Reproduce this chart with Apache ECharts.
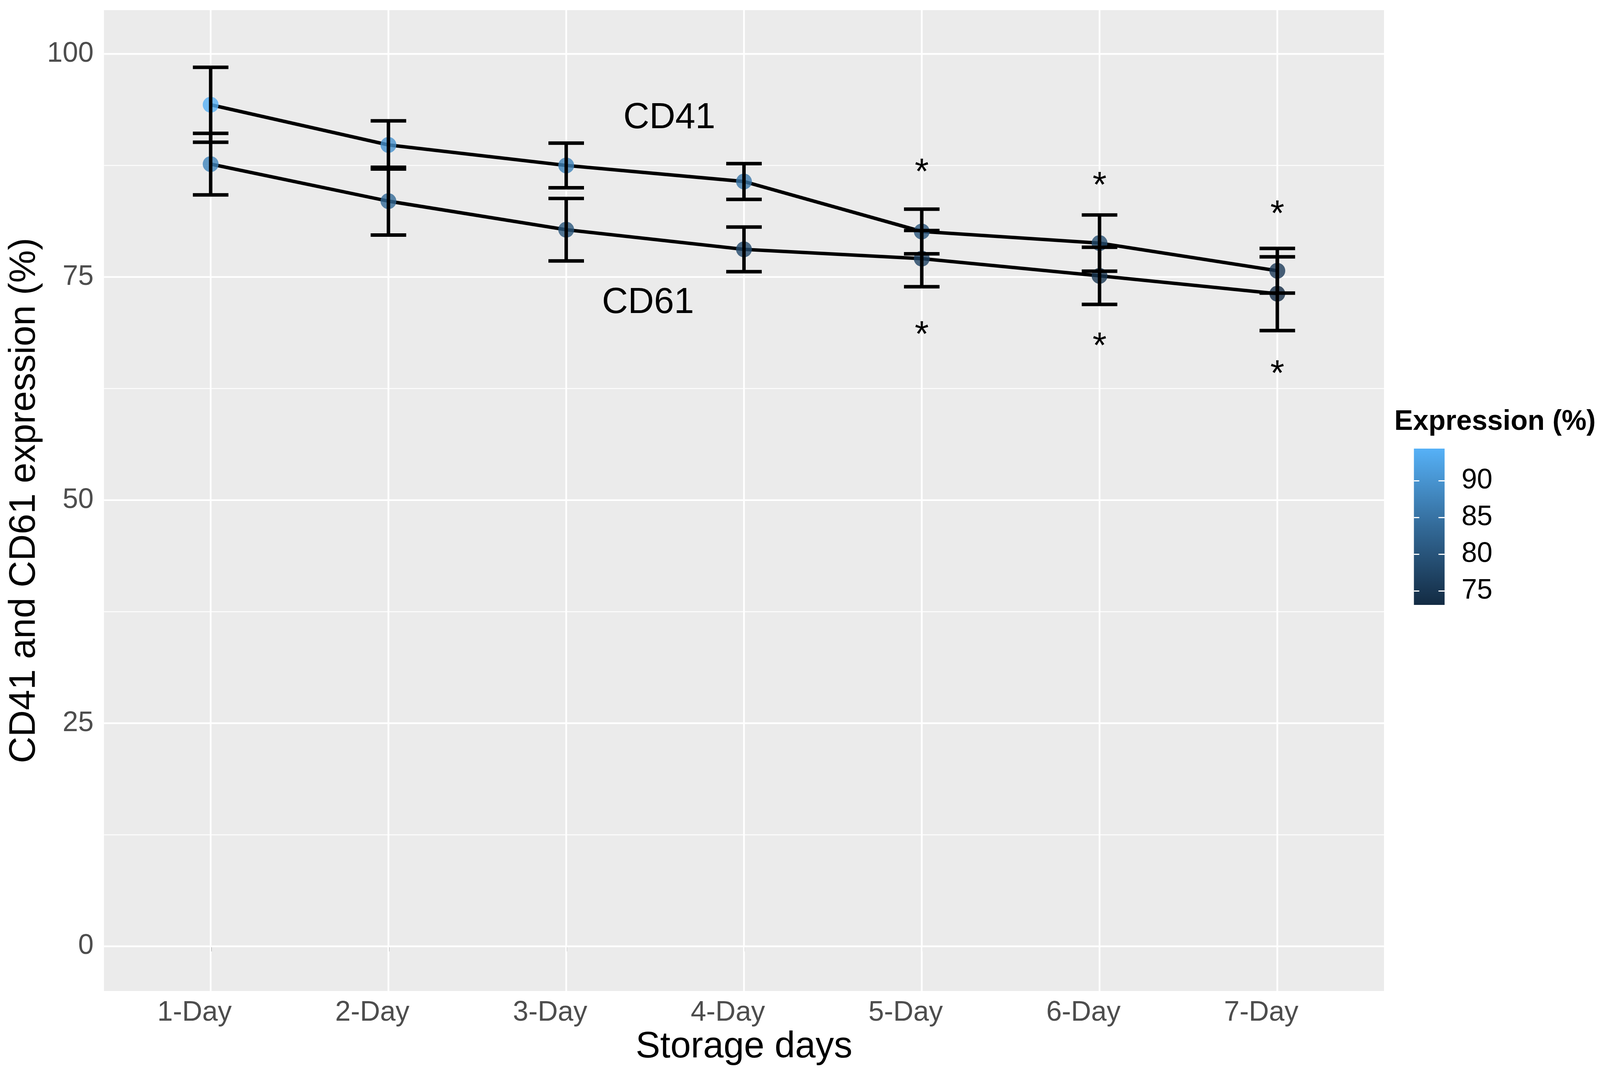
<!DOCTYPE html>
<html>
<head>
<meta charset="utf-8">
<script src="https://cdn.jsdelivr.net/npm/echarts@6/dist/echarts.min.js"></script>
<style>
html,body{margin:0;padding:0;background:#fff;overflow:hidden;}
#chart{width:100vw;height:100vh;}
</style>
</head>
<body>
<div id="chart"></div>
<script>
// ---------- data ----------
const categories = ['1-Day', '2-Day', '3-Day', '4-Day', '5-Day', '6-Day', '7-Day'];
const cd41Mean = [94.3, 89.8, 87.5, 85.7, 80.1, 78.8, 75.7];
const cd41Sd   = [4.2, 2.7, 2.5, 2.0, 2.5, 3.15, 2.5];
const cd61Mean = [87.65, 83.5, 80.3, 78.1, 77.06, 75.13, 73.13];
const cd61Sd   = [3.45, 3.8, 3.5, 2.5, 3.15, 3.2, 4.13];
const yTicks = [0, 25, 50, 75, 100];
const yMinorTicks = [12.5, 37.5, 62.5, 87.5];
const legendTicks = [75, 80, 85, 90];
const starDays = ['5-Day', '6-Day', '7-Day'];
const starUpper = [87.3, 85.8, 82.6];
const starLower = [69.1, 67.8, 64.7];
const labelText = ['CD41', 'CD61'];
const labelX = [2.58, 2.46];
const labelY = [93.0, 72.3];
const colorMin = 73.1, colorMax = 94.4;

// ---------- layout (designed for 4170 x 2751, scaled to the real viewport) ----------
const W = window.innerWidth || 4170, H = window.innerHeight || 2751;
const sx = W / 4170, sy = H / 2751, sf = (sx + sy) / 2;
const X = v => v * sx, Y = v => v * sy, F = v => v * sf;

const FONT = '"Liberation Sans", Arial, sans-serif';
const palette = ['#132B43', '#336A98', '#56B1F7'];
const chart = echarts.init(document.getElementById('chart'), null, {renderer: 'canvas', width: W, height: H});

const idx = categories.map((c, i) => i);
const xMin = -0.6, xMax = 6.6, yMin = -5, yMax = 104.9;

function gridH(width) {
  return function (params, api) {
    const cs = params.coordSys;
    const y = api.coord([0, api.value(1)])[1];
    return {type: 'line', shape: {x1: cs.x, y1: y, x2: cs.x + cs.width, y2: y},
      style: {stroke: '#FFFFFF', lineWidth: width, fill: null}, silent: true};
  };
}
function gridV(params, api) {
  const cs = params.coordSys;
  const x = api.coord([api.value(0), 50])[0];
  return {type: 'line', shape: {x1: x, y1: cs.y, x2: x, y2: cs.y + cs.height},
    style: {stroke: '#FFFFFF', lineWidth: F(4.5), fill: null}, silent: true};
}
function errorBar(params, api) {
  const x = api.value(0), lo = api.value(1), hi = api.value(2);
  const pLo = api.coord([x, lo]), pHi = api.coord([x, hi]);
  const half = api.coord([x + 0.1, lo])[0] - pLo[0];
  const st = {stroke: '#000000', lineWidth: F(9), lineCap: 'butt', fill: null};
  return {type: 'group', children: [
    {type: 'line', shape: {x1: pLo[0], y1: pLo[1], x2: pHi[0], y2: pHi[1]}, style: st},
    {type: 'line', shape: {x1: pLo[0] - half, y1: pLo[1], x2: pLo[0] + half, y2: pLo[1]}, style: st},
    {type: 'line', shape: {x1: pHi[0] - half, y1: pHi[1], x2: pHi[0] + half, y2: pHi[1]}, style: st}
  ]};
}
function textItem(getText, size, dyFactor) {
  return function (params, api) {
    const p = api.coord([api.value(0), api.value(1)]);
    return {type: 'text', x: p[0], y: p[1] + dyFactor * size,
      style: {text: getText(api.value(2)), fill: '#000000', fontSize: size, fontFamily: FONT,
        align: 'center', verticalAlign: 'middle'}};
  };
}

const starData = [];
starDays.forEach((d, i) => {
  const xi = categories.indexOf(d);
  starData.push([xi, starUpper[i], 0]);
  starData.push([xi, starLower[i], 0]);
});

const option = {
  backgroundColor: '#FFFFFF',
  animation: false,
  textStyle: {fontFamily: FONT},
  title: {
    text: 'Expression (%)', left: X(3629), top: Y(1040),
    textStyle: {fontSize: F(72), fontWeight: 'bold', color: '#000000', fontFamily: FONT}
  },
  grid: [
    {left: X(271), right: X(563), top: Y(26), bottom: Y(215), show: true, backgroundColor: '#EBEBEB',
      borderWidth: 0, containLabel: false, outerBoundsMode: 'none'},
    {left: X(3685), top: Y(1148), width: X(80), height: Y(400), show: true, borderWidth: 0,
      containLabel: false, outerBoundsMode: 'none',
      backgroundColor: {type: 'linear', x: 0, y: 0, x2: 0, y2: 1,
        colorStops: [{offset: 0, color: palette[2]}, {offset: 0.5, color: palette[1]}, {offset: 1, color: palette[0]}]}}
  ],
  xAxis: [
    {type: 'value', gridIndex: 0, min: xMin, max: xMax,
      name: 'Storage days', nameLocation: 'middle', nameGap: Y(93),
      nameTextStyle: {fontSize: F(95), color: '#000000', fontFamily: FONT},
      axisLine: {show: false},
      axisTick: {show: true, length: Y(13), customValues: idx, lineStyle: {color: '#333333', width: F(4)}},
      axisLabel: {show: true, customValues: idx, margin: Y(21), fontSize: F(72), color: '#4D4D4D',
        fontFamily: FONT, padding: [0, X(84), 0, 0],
        formatter: v => categories[Math.round(v)]},
      splitLine: {show: false}},
    {type: 'value', gridIndex: 1, min: 0, max: 1, show: false}
  ],
  yAxis: [
    {type: 'value', gridIndex: 0, min: yMin, max: yMax,
      name: 'CD41 and CD61 expression (%)', nameLocation: 'middle', nameGap: X(155),
      nameTextStyle: {fontSize: F(95), color: '#000000', fontFamily: FONT},
      axisLine: {show: false},
      axisTick: {show: true, length: X(13), customValues: yTicks, lineStyle: {color: '#333333', width: F(4)}},
      axisLabel: {show: true, customValues: yTicks, margin: X(27), fontSize: F(72), color: '#4D4D4D', fontFamily: FONT},
      splitLine: {show: false}},
    {type: 'value', gridIndex: 1, position: 'left', min: colorMin, max: colorMax,
      axisLine: {show: false},
      axisTick: {show: true, inside: true, length: X(14), customValues: legendTicks, lineStyle: {color: '#FFFFFF', width: F(3)}},
      axisLabel: {show: false}, splitLine: {show: false}},
    {type: 'value', gridIndex: 1, position: 'right', min: colorMin, max: colorMax,
      axisLine: {show: false},
      axisTick: {show: true, inside: true, length: X(16), customValues: legendTicks, lineStyle: {color: '#FFFFFF', width: F(3)}},
      axisLabel: {show: true, customValues: legendTicks, margin: X(44), fontSize: F(72), color: '#000000', fontFamily: FONT},
      splitLine: {show: false}}
  ],
  visualMap: {
    type: 'continuous', show: false, min: colorMin, max: colorMax, dimension: 1,
    seriesIndex: [5, 6], inRange: {color: palette}
  },
  series: [
    {type: 'custom', name: 'gridMinor', xAxisIndex: 0, yAxisIndex: 0, z: 1, silent: true,
      renderItem: gridH(F(2.2)), data: yMinorTicks.map(v => [0, v]), encode: {x: 0, y: 1}, clip: false},
    {type: 'custom', name: 'gridMajorH', xAxisIndex: 0, yAxisIndex: 0, z: 1, silent: true,
      renderItem: gridH(F(4.5)), data: yTicks.map(v => [0, v]), encode: {x: 0, y: 1}, clip: false},
    {type: 'custom', name: 'gridMajorV', xAxisIndex: 0, yAxisIndex: 0, z: 1, silent: true,
      renderItem: gridV, data: idx.map(i => [i, 50]), encode: {x: 0, y: 1}, clip: false},
    {type: 'line', name: 'CD41 line', z: 2, symbol: 'none', showSymbol: false,
      lineStyle: {color: '#000000', width: F(9)}, data: cd41Mean.map((v, i) => [i, v])},
    {type: 'line', name: 'CD61 line', z: 2, symbol: 'none', showSymbol: false,
      lineStyle: {color: '#000000', width: F(9)}, data: cd61Mean.map((v, i) => [i, v])},
    {type: 'scatter', name: 'CD41', z: 3, symbolSize: F(41), data: cd41Mean.map((v, i) => [i, v])},
    {type: 'scatter', name: 'CD61', z: 3, symbolSize: F(41), data: cd61Mean.map((v, i) => [i, v])},
    {type: 'custom', name: 'CD41 err', z: 4, renderItem: errorBar, encode: {x: 0, y: [1, 2]},
      data: cd41Mean.map((m, i) => [i, m - cd41Sd[i], m + cd41Sd[i]])},
    {type: 'custom', name: 'CD61 err', z: 4, renderItem: errorBar, encode: {x: 0, y: [1, 2]},
      data: cd61Mean.map((m, i) => [i, m - cd61Sd[i], m + cd61Sd[i]])},
    {type: 'custom', name: 'stars', z: 5, renderItem: textItem(() => '*', F(93), 0.18),
      encode: {x: 0, y: 1}, data: starData},
    {type: 'custom', name: 'labels', z: 5, renderItem: textItem(k => labelText[k], F(93), 0.05),
      encode: {x: 0, y: 1}, data: labelText.map((t, i) => [labelX[i], labelY[i], i])}
  ]
};
chart.setOption(option);
</script>
</body>
</html>
